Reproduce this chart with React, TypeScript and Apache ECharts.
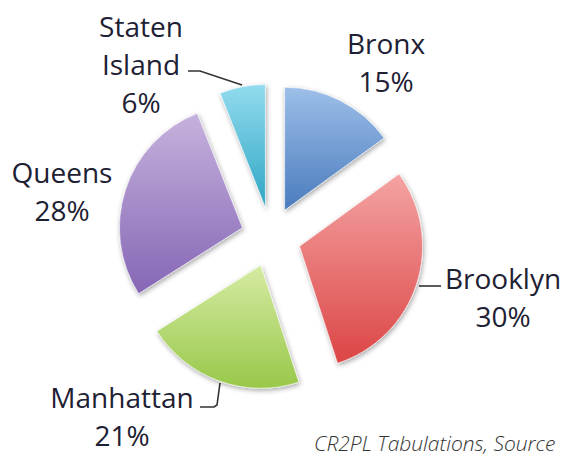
import React, { useEffect, useRef } from "react";
import * as echarts from "echarts";

const categories = ["Bronx", "Brooklyn", "Manhattan", "Queens", "Staten Island"];
const shares = [15, 30, 21, 28, 6];
const labelNames = ["Bronx", "Brooklyn", "Manhattan", "Queens", "Staten\nIsland"];
const topColors = ["#9dbfe9", "#f4a3a3", "#d6eba3", "#c6b2dd", "#93dbee"];
const bottomColors = ["#4a7bbd", "#dc4545", "#98c84a", "#8566b5", "#2ea6c4"];
const footerText = "CR2PL Tabulations, Source";

// label layout: center x and first-line center y of each label block, and leader lines
const labelPos: [number, number][] = [
  [386, 43],
  [503, 278],
  [122, 397],
  [62, 172],
  [141, 26],
];
const lineSpacing = 38;
const leaderLines: ([number, number][] | null)[] = [
  null,
  [[419, 286], [441, 286]],
  [[220, 383], [217, 405], [214, 407], [200, 407]],
  null,
  [[242, 85], [200, 71], [188, 71]],
];

export default function App() {
  const ref = useRef<HTMLDivElement>(null);
  useEffect(() => {
    if (!ref.current) return;
    const chart = echarts.init(ref.current, undefined, { renderer: "svg" });
    const data = categories.map((name, i) => ({
      name,
      value: shares[i],
      selected: true,
      itemStyle: {
        color: {
          type: "linear",
          x: 0,
          y: 0,
          x2: 0,
          y2: 1,
          colorStops: [
            { offset: 0, color: topColors[i] },
            { offset: 1, color: bottomColors[i] },
          ],
        },
      },
    }));
    const total = shares.reduce((a, b) => a + b, 0);
    const labelTexts: any[] = [];
    categories.forEach((_, i) => {
      const textLines = [
        ...labelNames[i].split("\n"),
        `${Math.round((shares[i] / total) * 100)}%`,
      ];
      textLines.forEach((t, k) => {
        labelTexts.push({
          type: "text",
          x: labelPos[i][0],
          y: labelPos[i][1] + k * lineSpacing,
          style: {
            text: t,
            fontFamily: "Open Sans",
            fontSize: 28,
            lineHeight: 28,
            fill: "#1e2133",
            align: "center",
            verticalAlign: "middle",
          },
        });
      });
    });
    const lines = leaderLines
      .filter((l) => l !== null)
      .map((pts) => ({
        type: "polyline",
        shape: { points: pts },
        style: { stroke: "#333333", lineWidth: 1.6, fill: "none" },
      }));
    chart.setOption({
      animation: false,
      backgroundColor: "#ffffff",
      series: [
        {
          type: "pie",
          center: [271, 237],
          radius: 123,
          startAngle: 90,
          clockwise: true,
          selectedMode: "multiple",
          selectedOffset: 30,
          data,
          itemStyle: {
            borderColor: "rgba(255,255,255,0.55)",
            borderWidth: 1,
            shadowBlur: 5,
            shadowColor: "rgba(0,0,0,0.35)",
            shadowOffsetX: 1,
            shadowOffsetY: 2,
          },
          emphasis: { disabled: true },
          label: { show: false },
          labelLine: { show: false },
        },
      ],
      graphic: [
        ...lines,
        ...labelTexts,
        {
          type: "text",
          left: 314,
          top: 432,
          style: {
            text: footerText,
            fontFamily: "Open Sans",
            fontStyle: "italic",
            fontWeight: 300,
            fontSize: 21,
            fill: "#333333",
          },
        },
      ],
    });
    return () => chart.dispose();
  }, []);
  return (
    <div
      ref={ref}
      style={{ position: "fixed", left: 0, top: 0, width: 566, height: 456 }}
    />
  );
}
